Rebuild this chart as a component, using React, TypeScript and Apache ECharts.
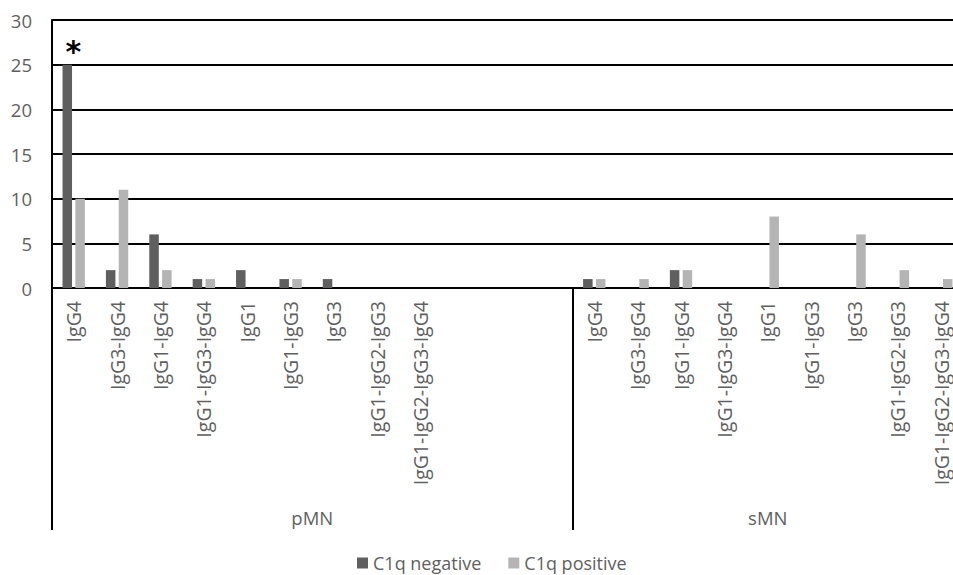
import React, { useEffect, useRef } from "react";
import * as echarts from "echarts";

// ---- data ----
const pmnTypes = [
  "IgG4",
  "IgG3-IgG4",
  "IgG1-IgG4",
  "IgG1-IgG3-IgG4",
  "IgG1",
  "IgG1-IgG3",
  "IgG3",
  "IgG1-IgG2-IgG3",
  "IgG1-IgG2-IgG3-IgG4",
];
const pmnBlankSlots = 3;
const smnTypes = [
  "IgG4",
  "IgG3-IgG4",
  "IgG1-IgG4",
  "IgG1-IgG3-IgG4",
  "IgG1",
  "IgG1-IgG3",
  "IgG3",
  "IgG1-IgG2-IgG3",
  "IgG1-IgG2-IgG3-IgG4",
];
const groupNames = ["pMN", "sMN"];
const seriesNames = ["C1q negative", "C1q positive"];

const negPMN = [25, 2, 6, 1, 2, 1, 1, 0, 0];
const posPMN = [10, 11, 2, 1, 0, 1, 0, 0, 0];
const negSMN = [1, 0, 2, 0, 0, 0, 0, 0, 0];
const posSMN = [1, 1, 2, 0, 8, 0, 6, 2, 1];

const yTicks = { min: 0, max: 30, interval: 5 };
const significantIndex = 0; // IgG4 pMN marked with *

// ---- build ----
const blanks = Array.from({ length: pmnBlankSlots }, (_, i) => `${groupNames[0]}|#${i}`);
const categories = [
  ...pmnTypes.map((t) => `${groupNames[0]}|${t}`),
  ...blanks,
  ...smnTypes.map((t) => `${groupNames[1]}|${t}`),
];
const blankVals = Array.from({ length: pmnBlankSlots }, () => null as number | null);
const negData = [...negPMN, ...blankVals, ...negSMN];
const posData = [...posPMN, ...blankVals, ...posSMN];
const totalSlots = categories.length;
const pmnSlots = pmnTypes.length + pmnBlankSlots;
const pmnCenter = pmnSlots / 2;
const smnCenter = pmnSlots + smnTypes.length / 2;

const FONT = "'Open Sans', 'DejaVu Sans', sans-serif";
const GRAY_TEXT = "#5f5f5f";

export default function App() {
  const ref = useRef<HTMLDivElement>(null);

  useEffect(() => {
    if (!ref.current) return;
    const chart = echarts.init(ref.current, undefined, { renderer: "svg" });
    const option: any = {
      animation: false,
      backgroundColor: "#ffffff",
      textStyle: { fontFamily: FONT },
      legend: {
        data: seriesNames,
        left: 352,
        top: 549,
        icon: "rect",
        itemWidth: 11,
        itemHeight: 11,
        itemGap: 27,
        textStyle: { fontSize: 18, color: GRAY_TEXT, fontFamily: FONT },
      },
      grid: {
        left: 52,
        right: -10,
        top: 20,
        bottom: 287,
        containLabel: false,
        outerBoundsMode: "none",
      },
      xAxis: [
        {
          type: "category",
          data: categories,
          position: "bottom",
          axisLine: { show: true, lineStyle: { color: "#000", width: 2 } },
          axisTick: {
            show: true,
            interval: (index: number) => index === 0 || index === pmnSlots,
            length: 242,
            lineStyle: { color: "#000", width: 2 },
          },
          axisLabel: {
            interval: 0,
            rotate: 90,
            margin: 13,
            fontSize: 19.5,
            lineHeight: 20,
            color: GRAY_TEXT,
            fontFamily: FONT,
            formatter: (v: string) => {
              const name = v.split("|")[1];
              return name.startsWith("#") ? "" : name;
            },
          },
          splitLine: { show: false },
        },
        {
          type: "value",
          position: "bottom",
          min: 0,
          max: totalSlots,
          interval: 1.5,
          offset: 212,
          axisLine: { show: false },
          axisTick: { show: false },
          splitLine: { show: false },
          axisLabel: {
            show: true,
            margin: 8,
            fontSize: 18.5,
            color: GRAY_TEXT,
            fontFamily: FONT,
            formatter: (v: number) =>
              Math.abs(v - pmnCenter) < 1e-6
                ? groupNames[0]
                : Math.abs(v - smnCenter) < 1e-6
                ? groupNames[1]
                : "",
          },
        },
      ],
      yAxis: {
        type: "value",
        min: yTicks.min,
        max: yTicks.max,
        interval: yTicks.interval,
        axisLine: { show: true, lineStyle: { color: "#000", width: 2 } },
        axisTick: { show: false },
        splitLine: { show: true, lineStyle: { color: "#000", width: 2 } },
        axisLabel: { fontSize: 18.5, color: GRAY_TEXT, margin: 20, fontFamily: FONT },
      },
      series: [
        {
          name: seriesNames[0],
          type: "bar",
          xAxisIndex: 0,
          barWidth: 9.5,
          barGap: "35%",
          itemStyle: { color: "#5f5f5f" },
          data: negData.map((v, i) =>
            i === significantIndex
              ? {
                  value: v,
                  label: {
                    show: true,
                    position: "top",
                    distance: 0,
                    offset: [6, 2],
                    formatter: "*",
                    fontSize: 30,
                    fontWeight: "bold",
                    color: "#000",
                    fontFamily: "'DejaVu Sans', sans-serif",
                  },
                }
              : v
          ),
        },
        {
          name: seriesNames[1],
          type: "bar",
          xAxisIndex: 0,
          barWidth: 9.5,
          barGap: "35%",
          itemStyle: { color: "#b4b4b4" },
          data: posData,
        },
      ],
    };
    chart.setOption(option);
    return () => chart.dispose();
  }, []);

  return (
    <div
      ref={ref}
      style={{ position: "fixed", left: 0, top: 0, width: 953, height: 575 }}
    />
  );
}
